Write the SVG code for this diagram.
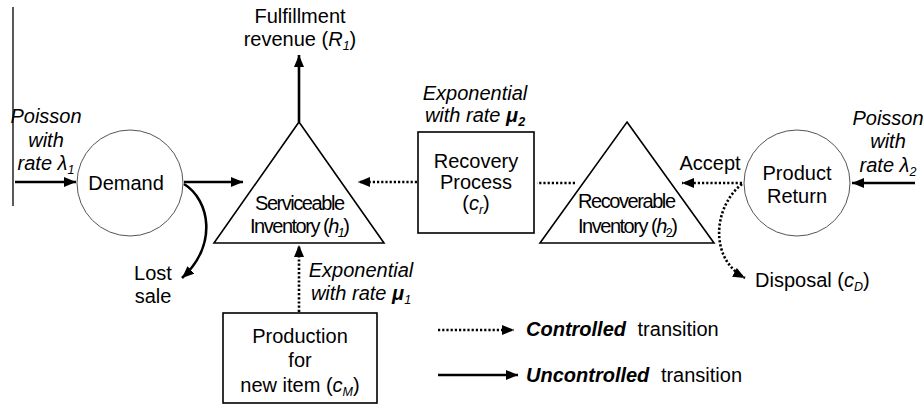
<svg xmlns="http://www.w3.org/2000/svg" width="923" height="407" viewBox="0 0 923 407">
<style>
text{font-family:"Liberation Sans",Arial,sans-serif;font-size:20px;fill:#000;text-anchor:middle}
.it{font-style:italic}
.bi{font-style:italic;font-weight:bold}
.sub{font-size:12.5px}
.circ{fill:#fff;stroke:#555;stroke-width:1}
.shape{fill:#fff;stroke:#000;stroke-width:1.6}
.solid{fill:none;stroke:#000;stroke-width:2.6}
.dot{fill:none;stroke:#000;stroke-width:2.6;stroke-dasharray:2.2 2}
.thin{fill:none;stroke:#000;stroke-width:1.3}
</style>
<defs>
<marker id="ah" markerUnits="userSpaceOnUse" markerWidth="14" markerHeight="12" refX="12" refY="5" orient="auto">
<path d="M0,0 L12,5 L0,10 Z" fill="#000"/>
</marker>
</defs>

<line class="thin" x1="13" y1="7" x2="13" y2="206"/>

<g id="connectors">
<line class="solid" x1="15" y1="182" x2="76" y2="182" marker-end="url(#ah)"/>
<line class="solid" x1="184" y1="182" x2="243" y2="182" marker-end="url(#ah)"/>
<path class="solid" d="M184,184 C210,200 218,245 182,278" marker-end="url(#ah)"/>
<line class="solid" x1="299" y1="122" x2="299" y2="55" marker-end="url(#ah)"/>
<line class="dot" x1="299" y1="312" x2="299" y2="245" marker-end="url(#ah)"/>
<line class="dot" x1="417" y1="182" x2="358" y2="182" marker-end="url(#ah)"/>
<line class="dot" x1="575" y1="183" x2="537" y2="183"/>
<line class="dot" x1="742" y1="183" x2="682" y2="183" marker-end="url(#ah)"/>
<path class="dot" d="M742,184 C714,206 708,258 745,278" marker-end="url(#ah)"/>
<line class="solid" x1="915" y1="183" x2="852" y2="183" marker-end="url(#ah)"/>
<line class="dot" x1="438" y1="330" x2="514" y2="330" marker-end="url(#ah)"/>
<line class="solid" x1="438" y1="375" x2="518" y2="375" marker-end="url(#ah)"/>
</g>

<g id="poisson1">
<text class="it" x="46" y="123">Poisson</text>
<text class="it" x="46" y="147">with</text>
<text class="it" x="46" y="170">rate λ<tspan class="sub" dy="4">1</tspan></text>
</g>

<g id="demand">
<circle class="circ" cx="130" cy="183" r="53"/>
<text x="126" y="190">Demand</text>
</g>

<g id="lost-sale">
<text x="153" y="280">Lost</text>
<text x="153" y="303">sale</text>
</g>

<g id="fulfillment">
<text x="300" y="23">Fulfillment</text>
<text x="300" y="46">revenue (<tspan class="it">R</tspan><tspan class="sub it" dy="4">1</tspan><tspan dy="-4">)</tspan></text>
</g>

<g id="serviceable">
<path class="shape" d="M299,122 L384,243 L214,243 Z"/>
<text x="300" y="210" textLength="90" lengthAdjust="spacing">Serviceable</text>
<text x="300" y="233" textLength="100" lengthAdjust="spacing">Inventory (<tspan class="it">h</tspan><tspan class="sub it" dy="4">1</tspan><tspan dy="-4">)</tspan></text>
</g>

<g id="exp1">
<text class="it" x="361" y="277">Exponential</text>
<text class="it" x="361" y="300">with rate <tspan class="bi">μ</tspan><tspan class="sub it" dy="4">1</tspan></text>
</g>

<g id="production">
<rect class="shape" x="223" y="313" width="154" height="90"/>
<text x="300" y="343">Production</text>
<text x="300" y="367">for</text>
<text x="300" y="392">new item (<tspan class="it">c</tspan><tspan class="sub it" dy="4">M</tspan><tspan dy="-4">)</tspan></text>
</g>

<g id="exp2">
<text class="it" x="475" y="100">Exponential</text>
<text class="it" x="475" y="122">with rate <tspan class="bi">μ</tspan><tspan class="sub bi" dy="4">2</tspan></text>
</g>

<g id="recovery">
<rect class="shape" x="418" y="132" width="116" height="101"/>
<text x="476" y="168">Recovery</text>
<text x="476" y="189">Process</text>
<text x="476" y="210">(<tspan class="it">c</tspan><tspan class="sub it" dy="4">r</tspan><tspan dy="-4">)</tspan></text>
</g>

<g id="recoverable">
<path class="shape" d="M627,122 L714,243 L540,243 Z"/>
<text x="627" y="208" textLength="98" lengthAdjust="spacing">Recoverable</text>
<text x="628" y="233" textLength="100" lengthAdjust="spacing">Inventory (<tspan class="it">h</tspan><tspan class="sub" dy="4">2</tspan><tspan dy="-4">)</tspan></text>
</g>

<g id="accept">
<text x="710" y="170">Accept</text>
</g>

<g id="product-return">
<circle class="circ" cx="797" cy="183" r="53"/>
<text x="797" y="180">Product</text>
<text x="797" y="203">Return</text>
</g>

<g id="poisson2">
<text class="it" x="888" y="125">Poisson</text>
<text class="it" x="888" y="148">with</text>
<text class="it" x="888" y="172">rate λ<tspan class="sub" dy="4">2</tspan></text>
</g>

<g id="disposal">
<text x="755" y="287" style="text-anchor:start">Disposal (<tspan class="it">c</tspan><tspan class="sub it" dy="4">D</tspan><tspan dy="-4">)</tspan></text>
</g>

<g id="legend">
<text x="526" y="336" style="text-anchor:start"><tspan class="bi">Controlled</tspan><tspan dx="6"> transition</tspan></text>
<text x="526" y="382" style="text-anchor:start"><tspan class="bi">Uncontrolled</tspan><tspan dx="6"> transition</tspan></text>
</g>
</svg>
